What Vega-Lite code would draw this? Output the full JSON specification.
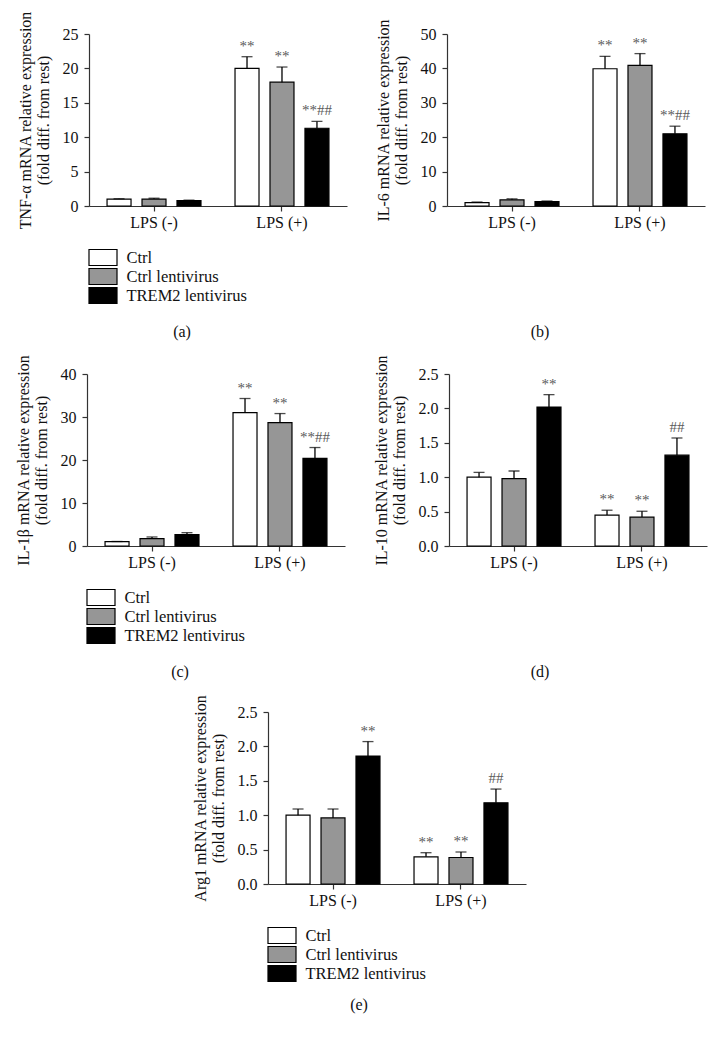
{
  "$schema": "https://vega.github.io/schema/vega-lite/v6.json",
  "padding": {"top": 10, "left": 15, "right": 5, "bottom": 5},
  "background": "#ffffff",
  "datasets": {
    "a": [
      {"cond": "LPS (-)", "grp": "Ctrl", "mean": 1.0, "upper": 1.05, "ann": ""},
      {"cond": "LPS (-)", "grp": "Ctrl lentivirus", "mean": 1.0, "upper": 1.13, "ann": ""},
      {"cond": "LPS (-)", "grp": "TREM2 lentivirus", "mean": 0.78, "upper": 0.85, "ann": ""},
      {"cond": "LPS (+)", "grp": "Ctrl", "mean": 20.0, "upper": 21.7, "ann": "**"},
      {"cond": "LPS (+)", "grp": "Ctrl lentivirus", "mean": 18.0, "upper": 20.2, "ann": "**"},
      {"cond": "LPS (+)", "grp": "TREM2 lentivirus", "mean": 11.3, "upper": 12.3, "ann": "**##"}
    ],
    "b": [
      {"cond": "LPS (-)", "grp": "Ctrl", "mean": 1.0, "upper": 1.15, "ann": ""},
      {"cond": "LPS (-)", "grp": "Ctrl lentivirus", "mean": 1.8, "upper": 2.1, "ann": ""},
      {"cond": "LPS (-)", "grp": "TREM2 lentivirus", "mean": 1.3, "upper": 1.45, "ann": ""},
      {"cond": "LPS (+)", "grp": "Ctrl", "mean": 39.9, "upper": 43.5, "ann": "**"},
      {"cond": "LPS (+)", "grp": "Ctrl lentivirus", "mean": 40.9, "upper": 44.3, "ann": "**"},
      {"cond": "LPS (+)", "grp": "TREM2 lentivirus", "mean": 21.0, "upper": 23.2, "ann": "**##"}
    ],
    "c": [
      {"cond": "LPS (-)", "grp": "Ctrl", "mean": 1.0, "upper": 1.05, "ann": ""},
      {"cond": "LPS (-)", "grp": "Ctrl lentivirus", "mean": 1.7, "upper": 2.1, "ann": ""},
      {"cond": "LPS (-)", "grp": "TREM2 lentivirus", "mean": 2.65, "upper": 3.1, "ann": ""},
      {"cond": "LPS (+)", "grp": "Ctrl", "mean": 31.0, "upper": 34.3, "ann": "**"},
      {"cond": "LPS (+)", "grp": "Ctrl lentivirus", "mean": 28.7, "upper": 30.8, "ann": "**"},
      {"cond": "LPS (+)", "grp": "TREM2 lentivirus", "mean": 20.4, "upper": 22.9, "ann": "**##"}
    ],
    "d": [
      {"cond": "LPS (-)", "grp": "Ctrl", "mean": 1.0, "upper": 1.07, "ann": ""},
      {"cond": "LPS (-)", "grp": "Ctrl lentivirus", "mean": 0.98, "upper": 1.09, "ann": ""},
      {"cond": "LPS (-)", "grp": "TREM2 lentivirus", "mean": 2.02, "upper": 2.2, "ann": "**"},
      {"cond": "LPS (+)", "grp": "Ctrl", "mean": 0.45, "upper": 0.52, "ann": "**"},
      {"cond": "LPS (+)", "grp": "Ctrl lentivirus", "mean": 0.42, "upper": 0.505, "ann": "**"},
      {"cond": "LPS (+)", "grp": "TREM2 lentivirus", "mean": 1.32, "upper": 1.57, "ann": "##"}
    ],
    "e": [
      {"cond": "LPS (-)", "grp": "Ctrl", "mean": 1.0, "upper": 1.09, "ann": ""},
      {"cond": "LPS (-)", "grp": "Ctrl lentivirus", "mean": 0.96, "upper": 1.09, "ann": ""},
      {"cond": "LPS (-)", "grp": "TREM2 lentivirus", "mean": 1.86, "upper": 2.07, "ann": "**"},
      {"cond": "LPS (+)", "grp": "Ctrl", "mean": 0.395, "upper": 0.455, "ann": "**"},
      {"cond": "LPS (+)", "grp": "Ctrl lentivirus", "mean": 0.385, "upper": 0.465, "ann": "**"},
      {"cond": "LPS (+)", "grp": "TREM2 lentivirus", "mean": 1.18, "upper": 1.38, "ann": "##"}
    ]
  },
  "vconcat": [
    {
      "hconcat": [
        {
          "width": 258, "height": 172,
          "data": {"name": "a"},
          "title": {"text": "(a)"},
          "encoding": {
            "x": {"field": "cond", "type": "nominal", "sort": ["LPS (-)", "LPS (+)"], "scale": {"paddingInner": 0.266, "paddingOuter": 0.141}},
            "xOffset": {"field": "grp", "type": "nominal", "sort": ["Ctrl", "Ctrl lentivirus", "TREM2 lentivirus"], "scale": {"paddingInner": 0.314, "paddingOuter": 0}}
          },
          "layer": [
            {"mark": {"type": "bar", "stroke": "#000000", "strokeWidth": 1.2},
             "encoding": {
               "y": {"field": "mean", "type": "quantitative", "scale": {"domain": [0, 25], "nice": false}, "axis": {"values": [0, 5, 10, 15, 20, 25]}, "title": ["TNF-α mRNA relative expression", "(fold diff. from rest)"]},
               "fill": {"field": "grp", "type": "nominal", "sort": ["Ctrl", "Ctrl lentivirus", "TREM2 lentivirus"], "scale": {"range": ["#ffffff", "#969696", "#000000"]}}
             }},
            {"mark": {"type": "rule", "color": "#000000", "strokeWidth": 1.3},
             "encoding": {"y": {"field": "mean", "type": "quantitative", "axis": {"values": [0, 5, 10, 15, 20, 25]}, "title": ["TNF-α mRNA relative expression", "(fold diff. from rest)"]}, "y2": {"field": "upper"}}},
            {"mark": {"type": "tick", "color": "#000000", "size": 11, "thickness": 1.3},
             "encoding": {"y": {"field": "upper", "type": "quantitative", "axis": {"values": [0, 5, 10, 15, 20, 25]}, "title": ["TNF-α mRNA relative expression", "(fold diff. from rest)"]}}},
            {"mark": {"type": "text", "baseline": "bottom", "dy": -3, "fontSize": 15, "color": "#5a5a5a"},
             "encoding": {"y": {"field": "upper", "type": "quantitative", "axis": {"values": [0, 5, 10, 15, 20, 25]}, "title": ["TNF-α mRNA relative expression", "(fold diff. from rest)"]}, "text": {"field": "ann"}}}
          ]
        },
        {
          "width": 258, "height": 172,
          "data": {"name": "b"},
          "title": {"text": "(b)"},
          "encoding": {
            "x": {"field": "cond", "type": "nominal", "sort": ["LPS (-)", "LPS (+)"], "scale": {"paddingInner": 0.266, "paddingOuter": 0.141}},
            "xOffset": {"field": "grp", "type": "nominal", "sort": ["Ctrl", "Ctrl lentivirus", "TREM2 lentivirus"], "scale": {"paddingInner": 0.314, "paddingOuter": 0}}
          },
          "layer": [
            {"mark": {"type": "bar", "stroke": "#000000", "strokeWidth": 1.2},
             "encoding": {
               "y": {"field": "mean", "type": "quantitative", "scale": {"domain": [0, 50], "nice": false}, "axis": {"values": [0, 10, 20, 30, 40, 50]}, "title": ["IL-6 mRNA relative expression", "(fold diff. from rest)"]},
               "fill": {"field": "grp", "type": "nominal", "sort": ["Ctrl", "Ctrl lentivirus", "TREM2 lentivirus"], "scale": {"range": ["#ffffff", "#969696", "#000000"]}}
             }},
            {"mark": {"type": "rule", "color": "#000000", "strokeWidth": 1.3},
             "encoding": {"y": {"field": "mean", "type": "quantitative", "axis": {"values": [0, 10, 20, 30, 40, 50]}, "title": ["IL-6 mRNA relative expression", "(fold diff. from rest)"]}, "y2": {"field": "upper"}}},
            {"mark": {"type": "tick", "color": "#000000", "size": 11, "thickness": 1.3},
             "encoding": {"y": {"field": "upper", "type": "quantitative", "axis": {"values": [0, 10, 20, 30, 40, 50]}, "title": ["IL-6 mRNA relative expression", "(fold diff. from rest)"]}}},
            {"mark": {"type": "text", "baseline": "bottom", "dy": -3, "fontSize": 15, "color": "#5a5a5a"},
             "encoding": {"y": {"field": "upper", "type": "quantitative", "axis": {"values": [0, 10, 20, 30, 40, 50]}, "title": ["IL-6 mRNA relative expression", "(fold diff. from rest)"]}, "text": {"field": "ann"}}}
          ]
        }
      ]
    },
    {
      "hconcat": [
        {
          "width": 258, "height": 172,
          "data": {"name": "c"},
          "title": {"text": "(c)"},
          "encoding": {
            "x": {"field": "cond", "type": "nominal", "sort": ["LPS (-)", "LPS (+)"], "scale": {"paddingInner": 0.266, "paddingOuter": 0.141}},
            "xOffset": {"field": "grp", "type": "nominal", "sort": ["Ctrl", "Ctrl lentivirus", "TREM2 lentivirus"], "scale": {"paddingInner": 0.314, "paddingOuter": 0}}
          },
          "layer": [
            {"mark": {"type": "bar", "stroke": "#000000", "strokeWidth": 1.2},
             "encoding": {
               "y": {"field": "mean", "type": "quantitative", "scale": {"domain": [0, 40], "nice": false}, "axis": {"values": [0, 10, 20, 30, 40]}, "title": ["IL-1β mRNA relative expression", "(fold diff. from rest)"]},
               "fill": {"field": "grp", "type": "nominal", "sort": ["Ctrl", "Ctrl lentivirus", "TREM2 lentivirus"], "scale": {"range": ["#ffffff", "#969696", "#000000"]}}
             }},
            {"mark": {"type": "rule", "color": "#000000", "strokeWidth": 1.3},
             "encoding": {"y": {"field": "mean", "type": "quantitative", "axis": {"values": [0, 10, 20, 30, 40]}, "title": ["IL-1β mRNA relative expression", "(fold diff. from rest)"]}, "y2": {"field": "upper"}}},
            {"mark": {"type": "tick", "color": "#000000", "size": 11, "thickness": 1.3},
             "encoding": {"y": {"field": "upper", "type": "quantitative", "axis": {"values": [0, 10, 20, 30, 40]}, "title": ["IL-1β mRNA relative expression", "(fold diff. from rest)"]}}},
            {"mark": {"type": "text", "baseline": "bottom", "dy": -3, "fontSize": 15, "color": "#5a5a5a"},
             "encoding": {"y": {"field": "upper", "type": "quantitative", "axis": {"values": [0, 10, 20, 30, 40]}, "title": ["IL-1β mRNA relative expression", "(fold diff. from rest)"]}, "text": {"field": "ann"}}}
          ]
        },
        {
          "width": 258, "height": 172,
          "data": {"name": "d"},
          "title": {"text": "(d)"},
          "encoding": {
            "x": {"field": "cond", "type": "nominal", "sort": ["LPS (-)", "LPS (+)"], "scale": {"paddingInner": 0.266, "paddingOuter": 0.141}},
            "xOffset": {"field": "grp", "type": "nominal", "sort": ["Ctrl", "Ctrl lentivirus", "TREM2 lentivirus"], "scale": {"paddingInner": 0.314, "paddingOuter": 0}}
          },
          "layer": [
            {"mark": {"type": "bar", "stroke": "#000000", "strokeWidth": 1.2},
             "encoding": {
               "y": {"field": "mean", "type": "quantitative", "scale": {"domain": [0, 2.5], "nice": false}, "axis": {"values": [0, 0.5, 1, 1.5, 2, 2.5], "format": ".1f"}, "title": ["IL-10 mRNA relative expression", "(fold diff. from rest)"]},
               "fill": {"field": "grp", "type": "nominal", "sort": ["Ctrl", "Ctrl lentivirus", "TREM2 lentivirus"], "scale": {"range": ["#ffffff", "#969696", "#000000"]}}
             }},
            {"mark": {"type": "rule", "color": "#000000", "strokeWidth": 1.3},
             "encoding": {"y": {"field": "mean", "type": "quantitative", "axis": {"values": [0, 0.5, 1, 1.5, 2, 2.5], "format": ".1f"}, "title": ["IL-10 mRNA relative expression", "(fold diff. from rest)"]}, "y2": {"field": "upper"}}},
            {"mark": {"type": "tick", "color": "#000000", "size": 11, "thickness": 1.3},
             "encoding": {"y": {"field": "upper", "type": "quantitative", "axis": {"values": [0, 0.5, 1, 1.5, 2, 2.5], "format": ".1f"}, "title": ["IL-10 mRNA relative expression", "(fold diff. from rest)"]}}},
            {"mark": {"type": "text", "baseline": "bottom", "dy": -3, "fontSize": 15, "color": "#5a5a5a"},
             "encoding": {"y": {"field": "upper", "type": "quantitative", "axis": {"values": [0, 0.5, 1, 1.5, 2, 2.5], "format": ".1f"}, "title": ["IL-10 mRNA relative expression", "(fold diff. from rest)"]}, "text": {"field": "ann"}}}
          ]
        }
      ]
    },
    {
      "width": 258, "height": 172,
      "data": {"name": "e"},
      "title": {"text": "(e)", "offset": 13},
      "encoding": {
        "x": {"field": "cond", "type": "nominal", "sort": ["LPS (-)", "LPS (+)"], "scale": {"paddingInner": 0.266, "paddingOuter": 0.141}},
        "xOffset": {"field": "grp", "type": "nominal", "sort": ["Ctrl", "Ctrl lentivirus", "TREM2 lentivirus"], "scale": {"paddingInner": 0.314, "paddingOuter": 0}}
      },
      "layer": [
        {"mark": {"type": "bar", "stroke": "#000000", "strokeWidth": 1.2},
         "encoding": {
           "y": {"field": "mean", "type": "quantitative", "scale": {"domain": [0, 2.5], "nice": false}, "axis": {"values": [0, 0.5, 1, 1.5, 2, 2.5], "format": ".1f"}, "title": ["Arg1 mRNA relative expression", "(fold diff. from rest)"]},
           "fill": {"field": "grp", "type": "nominal", "sort": ["Ctrl", "Ctrl lentivirus", "TREM2 lentivirus"], "scale": {"range": ["#ffffff", "#969696", "#000000"]}}
         }},
        {"mark": {"type": "rule", "color": "#000000", "strokeWidth": 1.3},
         "encoding": {"y": {"field": "mean", "type": "quantitative", "axis": {"values": [0, 0.5, 1, 1.5, 2, 2.5], "format": ".1f"}, "title": ["Arg1 mRNA relative expression", "(fold diff. from rest)"]}, "y2": {"field": "upper"}}},
        {"mark": {"type": "tick", "color": "#000000", "size": 11, "thickness": 1.3},
         "encoding": {"y": {"field": "upper", "type": "quantitative", "axis": {"values": [0, 0.5, 1, 1.5, 2, 2.5], "format": ".1f"}, "title": ["Arg1 mRNA relative expression", "(fold diff. from rest)"]}}},
        {"mark": {"type": "text", "baseline": "bottom", "dy": -3, "fontSize": 15, "color": "#5a5a5a"},
         "encoding": {"y": {"field": "upper", "type": "quantitative", "axis": {"values": [0, 0.5, 1, 1.5, 2, 2.5], "format": ".1f"}, "title": ["Arg1 mRNA relative expression", "(fold diff. from rest)"]}, "text": {"field": "ann"}}}
      ]
    }
  ],
  "center": true,
  "spacing": 14,
  "resolve": {"scale": {"fill": "independent"}, "legend": {"fill": "independent"}},
  "config": {
    "font": "Liberation Serif",
    "view": {"stroke": null},
    "concat": {"spacing": 28},
    "axis": {"grid": false, "domainColor": "#333333", "domainWidth": 1.2, "tickColor": "#333333", "tickWidth": 1.2, "tickSize": 5, "labelFont": "Liberation Serif", "labelFontSize": 16, "labelColor": "#111111", "titleFont": "Liberation Serif", "titleFontSize": 16, "titleFontWeight": "normal", "titleColor": "#111111"},
    "axisX": {"labelAngle": 0, "labelFontSize": 16, "labelPadding": 3, "title": null},
    "axisY": {"labelPadding": 6, "titlePadding": 11},
    "legend": {"orient": "none", "legendX": 0, "legendY": 215, "title": null, "symbolType": "M-1.867,-1.067H1.867V1.067H-1.867Z", "symbolSize": 225, "symbolOffset": 5.5, "symbolStrokeColor": "#000000", "symbolStrokeWidth": 1.2, "symbolOpacity": 1, "labelFont": "Liberation Serif", "labelFontSize": 16.5, "labelColor": "#111111", "rowPadding": -2, "labelOffset": 15, "padding": 0},
    "title": {"orient": "bottom", "frame": "bounds", "anchor": "middle", "offset": 94, "font": "Liberation Serif", "fontSize": 16, "fontWeight": "normal", "color": "#111111"}
  }
}
